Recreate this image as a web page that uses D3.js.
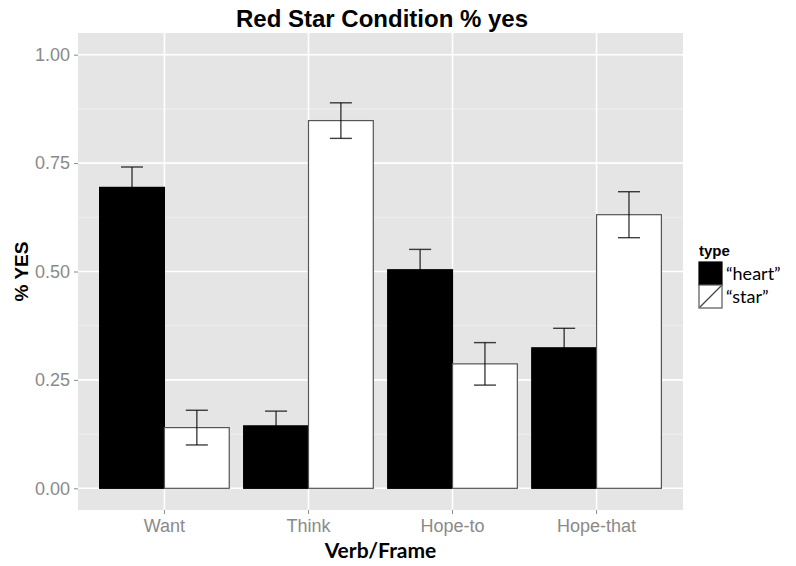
<!DOCTYPE html>
<html>
<head>
<meta charset="utf-8">
<script src="https://cdn.jsdelivr.net/npm/d3@7"></script>
<style>
  body { margin: 0; background: #fff; }
  text { font-family: "Liberation Sans", Arial, sans-serif; }
</style>
</head>
<body>
<div id="chart"></div>
<script>
// Values
const verbs = ["Want", "Think", "Hope-to", "Hope-that"];
const types = ["heart", "star"];
const typeLabels = ["\u201Cheart\u201D", "\u201Cstar\u201D"];
const heartYes = [0.694, 0.144, 0.504, 0.324];
const heartSe = [0.047, 0.034, 0.047, 0.045];
const starYes = [0.140, 0.848, 0.287, 0.631];
const starSe = [0.040, 0.041, 0.049, 0.053];
const yTicks = [0, 0.25, 0.5, 0.75, 1];
const yMinor = [0.125, 0.375, 0.625, 0.875];

const width = 796, height = 566;
const panel = {left: 78, right: 683, top: 33, bottom: 510};
const fills = {heart: "#000000", star: "#ffffff"};
const axisGrey = "#8a8a8a";

const rows = [];
verbs.forEach((v, i) => {
  rows.push({verb: v, type: "heart", yes: heartYes[i], se: heartSe[i]});
  rows.push({verb: v, type: "star", yes: starYes[i], se: starSe[i]});
});

// ggplot style discrete expansion: 0.6 of a step on either side, bars take 0.9
const x = d3.scaleBand()
  .domain(verbs)
  .range([panel.left, panel.right])
  .paddingInner(0.1)
  .paddingOuter(0.15);
const xType = d3.scaleBand()
  .domain(types)
  .range([0, x.bandwidth()]);
const y = d3.scaleLinear()
  .domain([-0.05, 1.05])
  .range([panel.bottom, panel.top]);

const svg = d3.select("#chart").append("svg")
  .attr("width", width)
  .attr("height", height);

// Panel background and grid
svg.append("rect")
  .attr("x", panel.left)
  .attr("y", panel.top)
  .attr("width", panel.right - panel.left)
  .attr("height", panel.bottom - panel.top)
  .attr("fill", "#e5e5e5");

svg.append("g")
  .selectAll("line")
  .data(yMinor)
  .join("line")
    .attr("x1", panel.left).attr("x2", panel.right)
    .attr("y1", d => y(d)).attr("y2", d => y(d))
    .attr("stroke", "#f2f2f2")
    .attr("stroke-width", 0.8);

svg.append("g")
  .selectAll("line")
  .data(yTicks)
  .join("line")
    .attr("x1", panel.left).attr("x2", panel.right)
    .attr("y1", d => y(d)).attr("y2", d => y(d))
    .attr("stroke", "#ffffff")
    .attr("stroke-width", 1.6);

svg.append("g")
  .selectAll("line")
  .data(verbs)
  .join("line")
    .attr("x1", d => x(d) + x.bandwidth() / 2).attr("x2", d => x(d) + x.bandwidth() / 2)
    .attr("y1", panel.top).attr("y2", panel.bottom)
    .attr("stroke", "#ffffff")
    .attr("stroke-width", 1.6);

// Bars
svg.append("g")
  .selectAll("rect")
  .data(rows)
  .join("rect")
    .attr("x", d => x(d.verb) + xType(d.type))
    .attr("y", d => y(d.yes))
    .attr("width", xType.bandwidth())
    .attr("height", d => y(0) - y(d.yes))
    .attr("fill", d => fills[d.type])
    .attr("stroke", d => d.type == "heart" ? "#000" : "#555")
    .attr("stroke-width", 1.2);

// Error bars: translucent black, so they disappear inside the black bars
const capHalf = xType.bandwidth() * 0.17;
const err = svg.append("g")
  .attr("stroke", "#000")
  .attr("stroke-width", 1.4)
  .attr("stroke-opacity", 0.75)
  .selectAll("g")
  .data(rows)
  .join("g")
    .attr("transform", d => `translate(${x(d.verb) + xType(d.type) + xType.bandwidth() / 2},0)`);
err.append("line")
  .attr("x1", 0).attr("x2", 0)
  .attr("y1", d => y(d.yes - d.se)).attr("y2", d => y(d.yes + d.se));
err.append("line")
  .attr("x1", -capHalf).attr("x2", capHalf)
  .attr("y1", d => y(d.yes + d.se)).attr("y2", d => y(d.yes + d.se));
err.append("line")
  .attr("x1", -capHalf).attr("x2", capHalf)
  .attr("y1", d => y(d.yes - d.se)).attr("y2", d => y(d.yes - d.se));

// Axes
const yAxis = svg.append("g")
  .attr("transform", `translate(${panel.left},0)`)
  .call(d3.axisLeft(y).tickValues(yTicks).tickFormat(d3.format(".2f")).tickSize(4).tickPadding(4));
const xAxis = svg.append("g")
  .attr("transform", `translate(0,${panel.bottom})`)
  .call(d3.axisBottom(x).tickSize(4).tickPadding(5));

[yAxis, xAxis].forEach(ax => {
  ax.select(".domain").remove();
  ax.selectAll(".tick line").attr("stroke", axisGrey);
  ax.selectAll(".tick text")
    .attr("fill", axisGrey)
    .style("font-size", "18px")
    .style("font-family", "'Liberation Sans', Arial, sans-serif");
});

// Titles
svg.append("text")
  .text("Red Star Condition % yes")
  .attr("x", 382)
  .attr("y", 27)
  .attr("text-anchor", "middle")
  .style("font-size", "24px")
  .style("font-weight", "bold");

svg.append("text")
  .text("% YES")
  .attr("transform", `translate(28,${(panel.top + panel.bottom) / 2}) rotate(-90)`)
  .attr("text-anchor", "middle")
  .style("font-size", "19px")
  .style("font-weight", "bold");

svg.append("text")
  .text("Verb/Frame")
  .attr("x", (panel.left + panel.right) / 2)
  .attr("y", 558)
  .attr("text-anchor", "middle")
  .style("font-family", "Lato, 'Open Sans', sans-serif")
  .style("font-size", "21px")
  .style("font-weight", "bold");

// Legend
const leg = {x: 699, y: 262, size: 23};
svg.append("text")
  .text("type")
  .attr("x", leg.x)
  .attr("y", leg.y - 6)
  .style("font-size", "15px")
  .style("font-weight", "bold");

const legEl = svg.append("g")
  .selectAll("g")
  .data(types)
  .join("g")
    .attr("transform", (_, i) => `translate(${leg.x},${leg.y + i * leg.size})`);

legEl.append("rect")
  .attr("width", leg.size)
  .attr("height", leg.size)
  .attr("fill", d => fills[d])
  .attr("stroke", d => d == "heart" ? "#000" : "#555")
  .attr("stroke-width", 1.2);

legEl.filter(d => d == "star").append("line")
  .attr("x1", 1).attr("y1", leg.size - 1)
  .attr("x2", leg.size - 1).attr("y2", 1)
  .attr("stroke", "#444")
  .attr("stroke-width", 1.2);

legEl.append("text")
  .text((_, i) => typeLabels[i])
  .attr("x", leg.size + 4)
  .attr("y", leg.size / 2 + 6)
  .style("font-family", "Lato, 'Open Sans', sans-serif")
  .style("font-size", "18px");
</script>
</body>
</html>
